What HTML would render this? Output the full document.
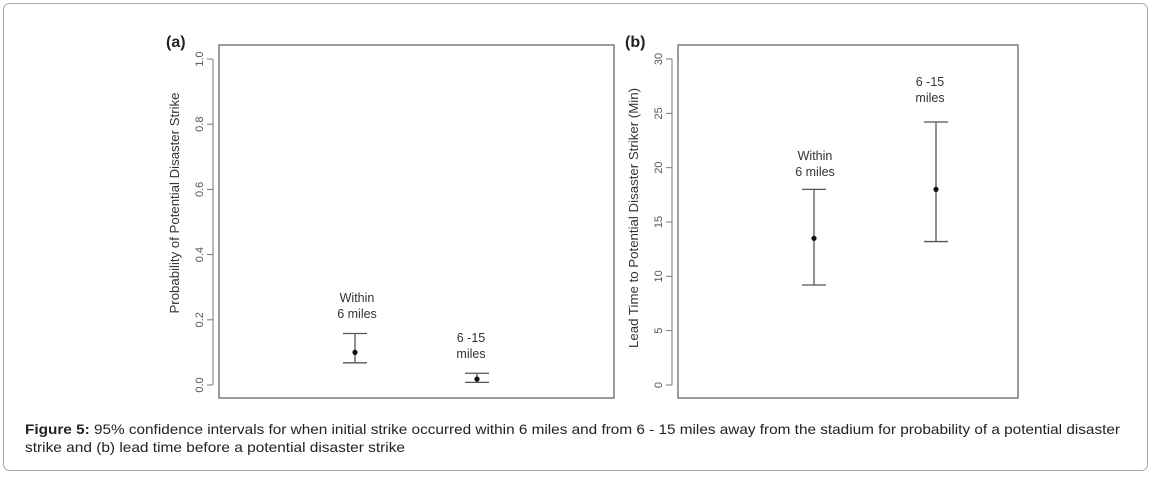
<!DOCTYPE html>
<html><head><meta charset="utf-8"><style>
body{margin:0;background:#fff}
svg{display:block;font-family:"Liberation Sans",Arial,sans-serif}
</style></head><body>
<svg id="fig" width="1151" height="478" viewBox="0 0 1151 478">
<rect x="3.5" y="3.5" width="1144" height="467" rx="6" fill="#fff" stroke="#aaa"/>
<g id="pa"></g>
<g id="pb"></g>
<text x="25" y="434" font-size="14" fill="#222" textLength="1095" lengthAdjust="spacingAndGlyphs"><tspan font-weight="bold">Figure 5:</tspan> 95% confidence intervals for when initial strike occurred within 6 miles and from 6 - 15 miles away from the stadium for probability of a potential disaster</text>
<text x="25" y="452" font-size="14" fill="#222" textLength="380" lengthAdjust="spacingAndGlyphs">strike and (b) lead time before a potential disaster strike</text>
</svg>
<script>
const catLabelsA = [["Within","6 miles"],["6 -15","miles"]];
const meansA = [0.10, 0.018];
const lowerA = [0.068, 0.008];
const upperA = [0.158, 0.036];
const ticksA = ["0.0","0.2","0.4","0.6","0.8","1.0"];
const meansB = [13.5, 18.0];
const lowerB = [9.2, 13.2];
const upperB = [18.0, 24.2];
const ticksB = ["0","5","10","15","20","25","30"];
const NS="http://www.w3.org/2000/svg";
function mk(g,tag,attrs,txt){const e=document.createElementNS(NS,tag);for(const k in attrs)e.setAttribute(k,attrs[k]);if(txt!=null)e.textContent=txt;g.appendChild(e);return e;}
function panel(gid,opt){
  const g=document.getElementById(gid);
  const y=v=>385-(v-opt.ymin)/(opt.ymax-opt.ymin)*326;
  let e=mk(g,'rect',{x:opt.x0,y:45,width:opt.x1-opt.x0,height:353,fill:'none',stroke:'#666','stroke-width':1.3});
  
  
  e=mk(g,'text',{x:opt.x0-53,y:47,'font-size':16,'font-weight':'bold',fill:'#222'},opt.tag);
  
  
  e=mk(g,'line',{x1:opt.x0-6,x2:opt.x0-6,y1:y(opt.ymin),y2:y(opt.ymax),stroke:'#777'});
  
  
  opt.ticks.forEach(t=>{const v=parseFloat(t),yy=y(v);
    let l=mk(g,'line',{x1:opt.x0-12,x2:opt.x0-6,y1:yy,y2:yy,stroke:'#777'});
    
    
    let tx=mk(g,'text',{x:0,y:0,'font-size':11,fill:'#555','text-anchor':'middle',transform:`translate(${opt.x0-16},${yy}) rotate(-90)`},t);
    
    
  });
  e=mk(g,'text',{x:0,y:0,'font-size':12.5,fill:'#333','text-anchor':'middle',textLength:opt.tlen,lengthAdjust:'spacingAndGlyphs',transform:`translate(${opt.x0-40},${opt.tmid}) rotate(-90)`},opt.title);
  
  
  opt.means.forEach((m,i)=>{const cx=opt.xs[i];
    const eg=mk(g,'g',{});
    
    
    mk(eg,'line',{x1:cx,x2:cx,y1:y(opt.lo[i]),y2:y(opt.hi[i]),stroke:'#555','stroke-width':1.3});
    mk(eg,'line',{x1:cx-12,x2:cx+12,y1:y(opt.lo[i]),y2:y(opt.lo[i]),stroke:'#555','stroke-width':1.3});
    mk(eg,'line',{x1:cx-12,x2:cx+12,y1:y(opt.hi[i]),y2:y(opt.hi[i]),stroke:'#555','stroke-width':1.3});
    const p=mk(g,'circle',{cx:cx,cy:y(m),r:2.6,fill:'#111'});
    
    
    const ly=opt.labY[i];
    opt.labels[i].forEach((s,j)=>{const t=mk(g,'text',{x:opt.labX[i],y:ly+j*16,'font-size':12.5,fill:'#333','text-anchor':'middle'},s);
      
      });
  });
}
panel('pa',{x0:219,x1:614,ymin:0,ymax:1,ticks:ticksA,tag:'(a)',title:'Probability of Potential Disaster Strike',tmid:203,tlen:221,
  means:meansA,lo:lowerA,hi:upperA,xs:[355,477],labels:catLabelsA,labX:[357,471],labY:[302,342]});
panel('pb',{x0:678,x1:1018,ymin:0,ymax:30,ticks:ticksB,tag:'(b)',title:'Lead Time to Potential Disaster Striker (Min)',tmid:218,tlen:260,
  means:meansB,lo:lowerB,hi:upperB,xs:[814,936],labels:catLabelsA,labX:[815,930],labY:[160,86]});
</script>
</body></html>
